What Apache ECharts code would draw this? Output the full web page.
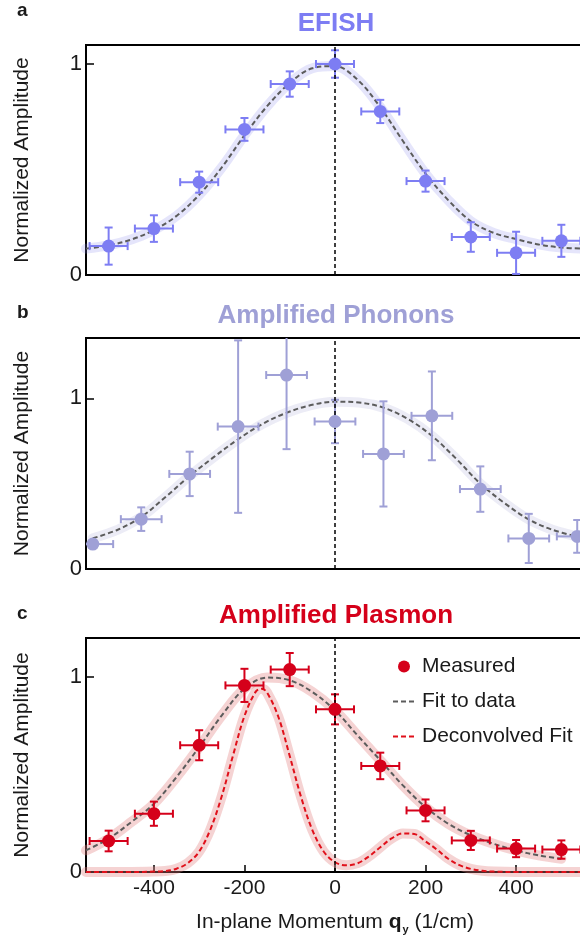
<!DOCTYPE html>
<html>
<head>
<meta charset="utf-8">
<script src="https://cdn.jsdelivr.net/npm/echarts@6/dist/echarts.min.js"></script>
<style>
  html, body { margin: 0; padding: 0; background: #fff; }
  #main { width: 580px; height: 941px; }
</style>
</head>
<body>
<div id="main"></div>
<script>
// ---- panel a: EFISH ----
const efishX = [-500, -400, -300, -200, -100, 0, 100, 200, 300, 400, 500];
const efishY = [0.137, 0.22, 0.44, 0.69, 0.905, 1.0, 0.775, 0.445, 0.18, 0.105, 0.162];
const efishXErr = [42, 42, 42, 42, 42, 42, 42, 42, 42, 42, 42];
const efishYErr = [0.088, 0.063, 0.05, 0.054, 0.06, 0.065, 0.055, 0.05, 0.07, 0.1, 0.076];
const efishFitX = [-550, -500, -450, -400, -350, -300, -250, -200, -150, -100, -50, 0, 50, 100, 150, 200, 250, 300, 350, 400, 450, 500, 550];
const efishFitY = [0.125, 0.14, 0.168, 0.213, 0.28, 0.38, 0.51, 0.662, 0.8, 0.91, 0.98, 0.99, 0.925, 0.795, 0.635, 0.48, 0.355, 0.255, 0.2, 0.17, 0.145, 0.13, 0.125];

// ---- panel b: Amplified Phonons ----
const phononX = [-535, -428, -321, -214, -107, 0, 107, 214, 321, 428, 535];
const phononY = [0.146, 0.292, 0.557, 0.834, 1.136, 0.864, 0.674, 0.897, 0.468, 0.179, 0.191];
const phononXErr = [45, 45, 45, 45, 45, 45, 45, 45, 45, 45, 45];
const phononYErr = [0, 0.069, 0.13, 0.505, 0.434, 0.127, 0.308, 0.26, 0.133, 0.144, 0.096];
const phononFitX = [-535, -480, -428, -375, -321, -268, -214, -160, -107, -53, 0, 53, 107, 160, 214, 268, 321, 375, 428, 480, 535];
const phononFitY = [0.18, 0.23, 0.305, 0.42, 0.545, 0.655, 0.76, 0.85, 0.915, 0.96, 0.98, 0.975, 0.945, 0.88, 0.78, 0.645, 0.5, 0.385, 0.29, 0.23, 0.19];

// ---- panel c: Amplified Plasmon ----
const plasmonX = [-500, -400, -300, -200, -100, 0, 100, 200, 300, 400, 500];
const plasmonY = [0.159, 0.299, 0.65, 0.957, 1.038, 0.834, 0.544, 0.316, 0.162, 0.12, 0.115];
const plasmonXErr = [42, 42, 42, 42, 42, 42, 42, 42, 42, 42, 42];
const plasmonYErr = [0.053, 0.062, 0.077, 0.085, 0.085, 0.077, 0.068, 0.056, 0.049, 0.044, 0.047];
const plasmonFitX = [-550, -500, -450, -400, -350, -300, -250, -200, -150, -100, -50, 0, 50, 100, 150, 200, 250, 300, 350, 400, 450, 500];
const plasmonFitY = [0.111, 0.171, 0.256, 0.35, 0.487, 0.641, 0.803, 0.94, 0.997, 0.983, 0.923, 0.829, 0.7, 0.573, 0.444, 0.333, 0.248, 0.188, 0.145, 0.111, 0.085, 0.068];
const deconvX = [-550, -500, -450, -400, -375, -350, -325, -300, -275, -250, -225, -200, -175, -162, -150, -125, -100, -75, -50, -25, 0, 25, 50, 75, 100, 125, 150, 175, 200, 225, 250, 275, 300, 325, 350, 400, 450, 500, 550];
const deconvY = [0, 0, 0, 0.002, 0.005, 0.017, 0.046, 0.105, 0.22, 0.39, 0.6, 0.8, 0.925, 0.94, 0.92, 0.795, 0.595, 0.385, 0.215, 0.105, 0.05, 0.034, 0.045, 0.08, 0.127, 0.172, 0.198, 0.195, 0.157, 0.115, 0.068, 0.035, 0.016, 0.006, 0.002, 0, 0, 0, 0];

const xTicks = [-400, -200, 0, 200, 400];
const yTicks = [0, 1];

const efishColor = '#7d7df3';
const phononColor = '#9fa0d6';
const plasmonColor = '#d5001a';
const fitColor = '#5c5c5c';
const font = 'Liberation Sans, Arial, sans-serif';
const textColor = '#1a1a1a';

const pairs = (xs, ys) => xs.map((x, i) => [x, ys[i]]);
const errRows = (xs, ys, ex, ey) => xs.map((x, i) => [x, ys[i], ex[i], ey[i]]);

// error bars with caps, clamped to the plot rect
function renderErr(params, api) {
    const cs = params.coordSys;
    const x = api.value(0), y = api.value(1), ex = api.value(2), ey = api.value(3);
    const c = api.coord([x, y]);
    const color = api.visual('color');
    const clampX = v => Math.max(cs.x, Math.min(cs.x + cs.width, v));
    const clampY = v => Math.max(cs.y, Math.min(cs.y + cs.height, v));
    const cap = 4;
    const kids = [];
    const line = (x1, y1, x2, y2) => kids.push({
        type: 'line',
        shape: {x1: x1, y1: y1, x2: x2, y2: y2},
        style: {stroke: color, lineWidth: 2}
    });
    const l = api.coord([x - ex, y])[0], r = api.coord([x + ex, y])[0];
    line(clampX(l), c[1], clampX(r), c[1]);
    if (l >= cs.x) line(l, c[1] - cap, l, c[1] + cap);
    if (r <= cs.x + cs.width) line(r, c[1] - cap, r, c[1] + cap);
    if (ey > 0) {
        const t = api.coord([x, y + ey])[1], b = api.coord([x, y - ey])[1];
        line(c[0], clampY(t), c[0], clampY(b));
        if (t >= cs.y) line(c[0] - cap, t, c[0] + cap, t);
        if (b <= cs.y + cs.height) line(c[0] - cap, b, c[0] + cap, b);
    }
    return {type: 'group', children: kids};
}

const grids = [
    {left: 86, right: -4, top: 45, height: 230, max: 1.09},
    {left: 86, right: -4, top: 338, height: 231, max: 1.353},
    {left: 86, right: -4, top: 638, height: 234, max: 1.2}
];

function xAxisFor(i) {
    const last = i === 2;
    return {
        type: 'value', gridIndex: i, min: -550, max: 550,
        splitLine: {show: false},
        axisLine: {show: true, onZero: false, lineStyle: {color: '#000', width: 2}},
        axisTick: {show: last, inside: true, length: 7, customValues: xTicks, lineStyle: {color: '#000', width: 1.5}},
        axisLabel: {show: last, customValues: xTicks, margin: 6, fontSize: 21, color: textColor, fontFamily: font},
        name: last ? '{n|In-plane Momentum }{b|q}{s|y}{n| (1/cm)}' : '',
        nameLocation: 'middle',
        nameGap: 38,
        nameTextStyle: {
            rich: {
                n: {fontSize: 21, color: textColor, fontFamily: font},
                b: {fontSize: 21, color: textColor, fontFamily: font, fontWeight: 'bold'},
                s: {fontSize: 11, color: textColor, fontFamily: font, fontWeight: 'bold', padding: [14, 0, 0, 1]}
            }
        }
    };
}

function yAxisFor(i) {
    return {
        type: 'value', gridIndex: i, min: 0, max: grids[i].max,
        splitLine: {show: false},
        axisLine: {show: true, onZero: false, lineStyle: {color: '#000', width: 2}},
        axisTick: {show: true, inside: true, length: 8, customValues: yTicks, lineStyle: {color: '#000', width: 1.5}},
        axisLabel: {customValues: yTicks, margin: 4, fontSize: 22, color: textColor, fontFamily: font},
        name: 'Normalized Amplitude',
        nameLocation: 'middle',
        nameGap: 53,
        nameTextStyle: {fontSize: 21, color: textColor, fontFamily: font}
    };
}

function zeroLine() {
    return {
        silent: true, symbol: 'none', animation: false,
        label: {show: false},
        lineStyle: {color: '#000', type: [4, 3], width: 1.5, opacity: 1},
        emphasis: {disabled: true},
        data: [{xAxis: 0}]
    };
}

function band(name, i, data, color, withZero) {
    const s = {
        name: name, type: 'line', xAxisIndex: i, yAxisIndex: i, data: data,
        smooth: 0.35, symbol: 'none', z: 1,
        lineStyle: {color: color, width: 10, cap: 'round'}
    };
    if (withZero) s.markLine = zeroLine();
    return s;
}

function dashed(name, i, data, color) {
    return {
        name: name, type: 'line', xAxisIndex: i, yAxisIndex: i, data: data,
        smooth: 0.35, symbol: 'none', showSymbol: false, z: 3, color: color,
        lineStyle: {color: color, width: 2, type: [5, 3]}
    };
}

function errSeries(name, i, data, color) {
    return {
        name: name, type: 'custom', xAxisIndex: i, yAxisIndex: i, data: data,
        renderItem: renderErr, itemStyle: {color: color}, z: 4
    };
}

function points(name, i, data, color) {
    return {
        name: name, type: 'scatter', xAxisIndex: i, yAxisIndex: i, data: data,
        symbol: 'circle', symbolSize: 13, itemStyle: {color: color, opacity: 1}, z: 5
    };
}

const chart = echarts.init(document.getElementById('main'));
chart.setOption({
    animation: false,
    backgroundColor: '#fff',
    grid: grids.map(g => ({left: g.left, right: g.right, top: g.top, height: g.height,
        show: true, borderColor: '#000', borderWidth: 2, backgroundColor: 'transparent',
        containLabel: false, outerBoundsMode: 'none'})),
    xAxis: [0, 1, 2].map(xAxisFor),
    yAxis: [0, 1, 2].map(yAxisFor),
    title: [
        {text: 'a', left: 17, top: 1, padding: 0, textStyle: {fontSize: 19, fontWeight: 'bold', color: textColor, fontFamily: font}},
        {text: 'b', left: 17, top: 303, padding: 0, textStyle: {fontSize: 19, fontWeight: 'bold', color: textColor, fontFamily: font}},
        {text: 'c', left: 17, top: 604, padding: 0, textStyle: {fontSize: 19, fontWeight: 'bold', color: textColor, fontFamily: font}},
        {text: 'EFISH', left: 336, top: 11, padding: 0, textAlign: 'center', textStyle: {fontSize: 26, fontWeight: 'bold', color: efishColor, fontFamily: font}},
        {text: 'Amplified Phonons', left: 336, top: 303, padding: 0, textAlign: 'center', textStyle: {fontSize: 26, fontWeight: 'bold', color: phononColor, fontFamily: font}},
        {text: 'Amplified Plasmon', left: 336, top: 603, padding: 0, textAlign: 'center', textStyle: {fontSize: 26, fontWeight: 'bold', color: plasmonColor, fontFamily: font}}
    ],
    legend: {
        data: [
            {name: 'Measured'},
            {name: 'Fit to data', itemStyle: {opacity: 0}},
            {name: 'Deconvolved Fit', itemStyle: {opacity: 0}}
        ],
        orient: 'vertical', left: 392, top: 656, padding: 0,
        itemWidth: 22, itemHeight: 12, itemGap: 14,
        selectedMode: false,
        textStyle: {fontSize: 21, color: textColor, fontFamily: font, padding: [0, 0, 0, 2]}
    },
    series: [
        band('bandA', 0, pairs(efishFitX, efishFitY), 'rgba(135,135,235,0.22)', true),
        dashed('fitA', 0, pairs(efishFitX, efishFitY), fitColor),
        errSeries('errA', 0, errRows(efishX, efishY, efishXErr, efishYErr), efishColor),
        points('ptsA', 0, pairs(efishX, efishY), efishColor),

        band('bandB', 1, pairs(phononFitX, phononFitY), 'rgba(160,160,210,0.2)', true),
        dashed('fitB', 1, pairs(phononFitX, phononFitY), fitColor),
        errSeries('errB', 1, errRows(phononX, phononY, phononXErr, phononYErr), phononColor),
        points('ptsB', 1, pairs(phononX, phononY), phononColor),

        band('bandC1', 2, pairs(plasmonFitX, plasmonFitY), 'rgba(225,130,130,0.35)', true),
        band('bandC2', 2, pairs(deconvX, deconvY), 'rgba(225,130,130,0.35)', false),
        dashed('Fit to data', 2, pairs(plasmonFitX, plasmonFitY), fitColor),
        dashed('Deconvolved Fit', 2, pairs(deconvX, deconvY), '#e0101a'),
        errSeries('errC', 2, errRows(plasmonX, plasmonY, plasmonXErr, plasmonYErr), plasmonColor),
        points('Measured', 2, pairs(plasmonX, plasmonY), plasmonColor)
    ]
});
</script>
</body>
</html>
